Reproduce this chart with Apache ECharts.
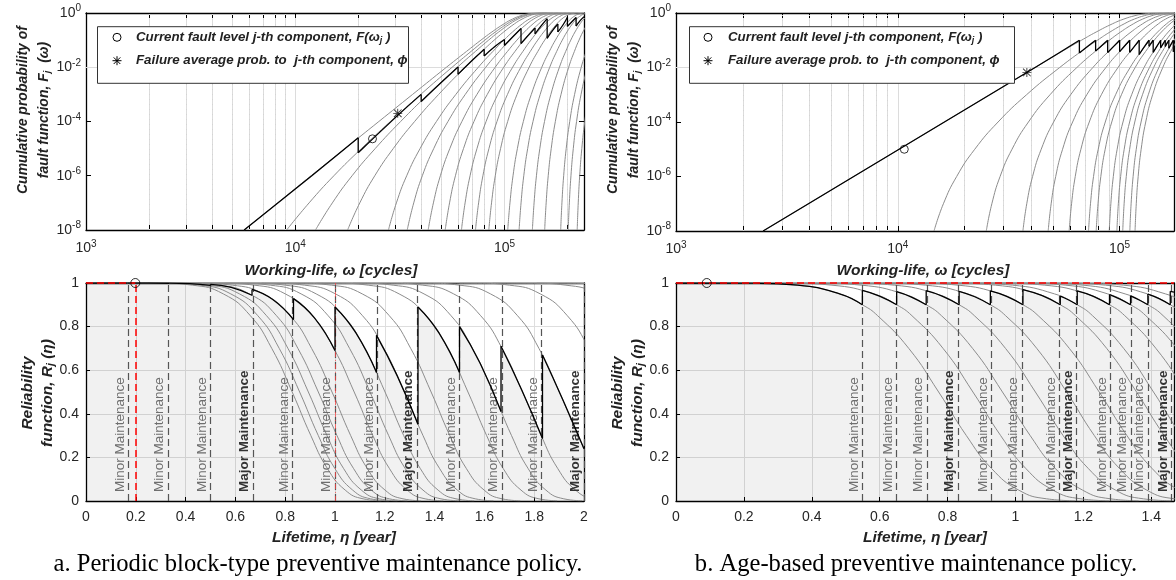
<!DOCTYPE html>
<html><head><meta charset="utf-8">
<script src="https://cdn.jsdelivr.net/npm/echarts@6/dist/echarts.min.js"></script>
<style>html,body{margin:0;padding:0;background:#fff}#c{width:1176px;height:580px}</style>
</head><body><div id="c"></div>
<script>
// ================= DATA =================
// --- axis ranges / ticks ---
const cyclesMaxA = 2.4e5, cyclesMaxB = 1.76e5;
const yearsMaxA = 2, yearsMaxB = 1.467;
const decadeTicks = [1e3, 1e4, 1e5];
const minorTicksA = [2e3,3e3,4e3,5e3,6e3,7e3,8e3,9e3,2e4,3e4,4e4,5e4,6e4,7e4,8e4,9e4,2e5];
const minorTicksB = [2e3,3e3,4e3,5e3,6e3,7e3,8e3,9e3,2e4,3e4,4e4,5e4,6e4,7e4,8e4,9e4];
const probTicks = [1e-8, 1e-6, 1e-4, 1e-2, 1];
const probGrid = [1e-6, 1e-4, 1e-2];

// --- top panels: cumulative probability curves ---
// probability levels and the working-life (cycles) at which the left-most grey curve crosses them
const fLevels = [1e-8,1e-7,1e-6,1e-5,1e-4,1e-3,1e-2,0.05,0.1,0.2,0.4,0.6,0.8,0.9,0.97,0.995,0.9999];
const fCurveA = [5.7e3,8.25e3,1.19e4,1.73e4,2.51e4,3.64e4,5.28e4,6.88e4,7.72e4,8.71e4,9.96e4,1.094e5,1.199e5,1.27e5,1.359e5,1.452e5,1.588e5];
const fCurveB = [2.47e3,3.96e3,6.33e3,1.014e4,1.623e4,2.597e4,4.161e4,5.8e4,6.73e4,7.84e4,9.28e4,1.046e5,1.174e5,1.263e5,1.376e5,1.497e5,1.676e5];
// horizontal offset (cycles) of every grey curve relative to the left-most one
const fShiftA = [0,3.4e3,6.8e3,1.21e4,2.22e4,2.86e4,3.75e4,4.64e4,5.66e4,6.7e4,7.85e4,9.8e4,1.118e5,1.303e5,1.5e5,1.8e5,1.96e5,2.17e5];
const fShiftB = [0,1.21e4,2.26e4,3.42e4,4.52e4,5.68e4,7.0e4,7.6e4,8.74e4,9.48e4,1.009e5,1.088e5,1.15e5];
// black (current) fault curve, one list per interval between maintenances: [cycles, F]
const fBlackA = [
  [[5.7e3,1e-8],[1.2e4,1e-6],[2e4,2.5e-5]],
  [[2e4,7e-6],[3e4,1.36e-4],[4e4,1.0e-3]],
  [[4e4,5.5e-4],[5e4,2.8e-3],[6e4,1.03e-2]],
  [[6e4,5.5e-3],[7e4,1.77e-2],[8e4,4.65e-2]],
  [[8e4,2.6e-2],[9e4,5.8e-2],[1e5,0.105]],
  [[1e5,6.3e-2],[1.1e5,0.136],[1.2e5,0.27]],
  [[1.2e5,7.5e-2],[1.3e5,0.149],[1.4e5,0.279]],
  [[1.4e5,0.17],[1.5e5,0.34],[1.6e5,0.62]],
  [[1.6e5,0.117],[1.7e5,0.229],[1.8e5,0.394]],
  [[1.8e5,0.2],[1.9e5,0.353],[2e5,0.70]],
  [[2e5,0.32],[2.1e5,0.475],[2.2e5,0.681]],
  [[2.2e5,0.33],[2.3e5,0.524],[2.4e5,0.727]]
];
const fBlackB = [
  [[2.47e3,1e-8],[6.33e3,1e-6],[1.623e4,1e-4],[4.161e4,1e-2],[6.59e4,0.1]],
  [[6.59e4,0.034],[7.19e4,0.06],[7.8e4,0.1]],
  [[7.8e4,0.04],[8.32e4,0.0645],[8.84e4,0.1]],
  [[8.84e4,0.0355],[9.43e4,0.061],[1.001e5,0.1]],
  [[1.001e5,0.038],[1.056e5,0.063],[1.111e5,0.1]],
  [[1.111e5,0.036],[1.169e5,0.061],[1.226e5,0.1]],
  [[1.226e5,0.03],[1.292e5,0.057],[1.358e5,0.1]],
  [[1.358e5,0.06],[1.388e5,0.078],[1.418e5,0.1]],
  [[1.418e5,0.036],[1.475e5,0.061],[1.532e5,0.1]],
  [[1.532e5,0.053],[1.57e5,0.074],[1.607e5,0.1]],
  [[1.607e5,0.059],[1.637e5,0.078],[1.668e5,0.1]],
  [[1.668e5,0.051],[1.708e5,0.072],[1.747e5,0.1]],
  [[1.747e5,0.038],[1.76e5,0.041]]
];
const fCircleA = [2.34e4, 2.3e-5], fStarA = [3.09e4, 2.0e-4];
const fCircleB = [1.07e4, 1.0e-5], fStarB = [3.82e4, 6.6e-3];

// --- bottom panels: reliability curves ---
const rLevelsA = [1,0.999,0.99,0.95,0.85,0.7,0.5,0.3,0.15,0.05,0.01,0.001];
const rCurveA  = [0,0.298,0.4275,0.5515,0.66,0.746,0.828,0.903,0.969,1.041,1.113,1.186];
const rShiftA  = [0,0.03,0.065,0.105,0.16,0.249,0.3125,0.373,0.4505,0.558,0.706,0.806,0.925,1.073,1.273,1.5,1.633,1.81];
const rLevelsB = [1,0.999,0.99,0.95,0.9,0.85,0.7,0.5,0.3,0.15,0.05,0.01,0.001];
const rCurveB  = [0,0.2355,0.3583,0.482,0.549,0.594,0.6857,0.7737,0.8554,0.929,1.0096,1.092,1.175];
const rShiftB  = [0,0.101,0.188,0.285,0.377,0.473,0.583,0.633,0.728,0.79,0.841,0.907,0.96];
const rBlackA = [
  [[0,1],[0.0833,1],[0.1667,1]],
  [[0.1667,1],[0.25,1],[0.3333,0.9989]],
  [[0.3333,0.9995],[0.4167,0.997],[0.5,0.9888]],
  [[0.5,0.9939],[0.5833,0.98],[0.6667,0.9437]],
  [[0.6667,0.9704],[0.75,0.924],[0.8333,0.832]],
  [[0.8333,0.9285],[0.9167,0.841],[1.0,0.69]],
  [[1.0,0.89],[1.0833,0.772],[1.1667,0.589]],
  [[1.1667,0.76],[1.25,0.574],[1.3333,0.352]],
  [[1.3333,0.89],[1.4167,0.772],[1.5,0.589]],
  [[1.5,0.8],[1.5833,0.631],[1.6667,0.411]],
  [[1.6667,0.71],[1.75,0.509],[1.8333,0.287]],
  [[1.8333,0.67],[1.9167,0.46],[2.0,0.24]]
];
const rBlackB = [
  [[0,1],[0.2355,0.999],[0.3583,0.99],[0.482,0.95],[0.549,0.9]],
  [[0.549,0.966],[0.5995,0.94],[0.65,0.9]],
  [[0.65,0.96],[0.6935,0.9355],[0.737,0.9]],
  [[0.737,0.9645],[0.7855,0.939],[0.834,0.9]],
  [[0.834,0.962],[0.88,0.937],[0.926,0.9]],
  [[0.926,0.964],[0.974,0.939],[1.022,0.9]],
  [[1.022,0.97],[1.077,0.943],[1.132,0.9]],
  [[1.132,0.94],[1.157,0.922],[1.182,0.9]],
  [[1.182,0.964],[1.2295,0.939],[1.277,0.9]],
  [[1.277,0.947],[1.308,0.926],[1.339,0.9]],
  [[1.339,0.941],[1.3645,0.922],[1.39,0.9]],
  [[1.39,0.949],[1.423,0.928],[1.456,0.9]],
  [[1.456,0.962],[1.467,0.958]]
];
const maintA = [0.1667,0.3333,0.5,0.6667,0.8333,1.0,1.1667,1.3333,1.5,1.6667,1.8333,2.0];
const maintKindA = ['Minor','Minor','Minor','Major','Minor','Minor','Minor','Major','Minor','Minor','Minor','Major'];
const maintB = [0.549,0.65,0.737,0.834,0.926,1.022,1.132,1.182,1.277,1.339,1.39,1.456];
const maintKindB = ['Minor','Minor','Minor','Major','Minor','Minor','Minor','Major','Minor','Minor','Minor','Major'];
const nowA = 0.198, nowB = 0.0906;
const horizonA = 1.0;

// --- texts ---
const legendText1 = 'Current fault level j-th component, F(ω';
const legendText2 = 'Failure average prob. to  j-th component, ϕ';
const captionA = 'a. Periodic block-type preventive maintenance policy.';
const captionB = 'b. Age-based preventive maintenance policy.';

// ================= CHART =================
const FONT = "'Liberation Sans', Arial, Helvetica, sans-serif";
const TXT = '#262626';
const STAR = 'path://M4.5,0L5.5,0L5.5,10L4.5,10Z M0,4.5L10,4.5L10,5.5L0,5.5Z M1.1,0.4L9.6,8.9L8.9,9.6L0.4,1.1Z M8.9,0.4L9.6,1.1L1.1,9.6L0.4,8.9Z';

const powRich = {
  b: {fontSize: 14, fontFamily: FONT, color: TXT},
  s: {fontSize: 10, fontFamily: FONT, color: TXT, padding: [0, 0, 9, 0]}
};
function pow10(v) {
  const e = Math.round(Math.log10(v));
  if (Math.abs(Math.log10(v) - e) > 1e-6) return '';
  return '{b|10}{s|' + e + '}';
}

const xAxes = [], yAxes = [];
const frame = {show: true, onZero: false, lineStyle: {color: '#000', width: 1.3}};
function addLogAxes(g, xmax, minor) {
  const tv = decadeTicks.concat(minor).filter(v => v <= xmax);
  xAxes.push({type: 'log', logBase: 10, gridIndex: g, min: 1e3, max: xmax, position: 'bottom',
    axisLine: frame, axisTick: {show: true, inside: true, length: 5, customValues: tv, lineStyle: {color: '#000'}},
    axisLabel: {show: true, customValues: decadeTicks, formatter: pow10, rich: powRich, margin: 9},
    splitLine: {show: true, lineStyle: {color: '#dcdcdc', width: 1}}});
  xAxes.push({type: 'log', logBase: 10, gridIndex: g, min: 1e3, max: xmax, position: 'top',
    axisLine: frame, axisTick: {show: true, inside: true, length: 5, customValues: tv, lineStyle: {color: '#000'}},
    axisLabel: {show: false}, splitLine: {show: false}});
  yAxes.push({type: 'log', logBase: 10, gridIndex: g, min: 1e-8, max: 1, position: 'left',
    axisLine: frame, axisTick: {show: true, inside: true, length: 5, customValues: probTicks, lineStyle: {color: '#000'}},
    axisLabel: {show: true, customValues: probTicks, formatter: pow10, rich: powRich, margin: 5},
    splitLine: {show: false}});
  yAxes.push({type: 'log', logBase: 10, gridIndex: g, min: 1e-8, max: 1, position: 'right',
    axisLine: frame, axisTick: {show: true, inside: true, length: 5, customValues: probTicks, lineStyle: {color: '#000'}},
    axisLabel: {show: false}, splitLine: {show: false}});
}
function addLinAxes(g, xmax) {
  const lab = {show: true, fontFamily: FONT, fontSize: 14, color: TXT, margin: 9};
  xAxes.push({type: 'value', gridIndex: g, min: 0, max: xmax, interval: 0.2, position: 'bottom',
    axisLine: frame, axisTick: {show: true, inside: true, length: 4, lineStyle: {color: '#000'}},
    axisLabel: Object.assign({showMaxLabel: xmax === 2}, lab),
    splitLine: {show: true, lineStyle: {color: '#dedede', width: 1}}});
  xAxes.push({type: 'value', gridIndex: g, min: 0, max: xmax, interval: 0.2, position: 'top',
    axisLine: frame, axisTick: {show: false}, axisLabel: {show: false}, splitLine: {show: false}});
  yAxes.push({type: 'value', gridIndex: g, min: 0, max: 1, interval: 0.2, position: 'left',
    axisLine: frame, axisTick: {show: true, inside: true, length: 4, lineStyle: {color: '#000'}},
    axisLabel: Object.assign({}, lab, {margin: 7}),
    splitLine: {show: true, lineStyle: {color: '#dedede', width: 1}}});
  yAxes.push({type: 'value', gridIndex: g, min: 0, max: 1, interval: 0.2, position: 'right',
    axisLine: frame, axisTick: {show: false}, axisLabel: {show: false}, splitLine: {show: false}});
}
addLogAxes(0, cyclesMaxA, minorTicksA);
addLogAxes(1, cyclesMaxB, minorTicksB);
addLinAxes(2, yearsMaxA);
addLinAxes(3, yearsMaxB);

const series = [];
function helper(xi, yi, pt, ml) {
  series.push({type: 'line', xAxisIndex: xi, yAxisIndex: yi, data: [pt], showSymbol: false, symbol: 'none',
    silent: true, lineStyle: {opacity: 0}, z: ml.z, markLine: Object.assign({silent: true, symbol: ['none', 'none'], animation: false, label: {show: false}}, ml)});
}
function greys(curve, levels, shifts, xi, yi) {
  shifts.forEach(s => series.push({type: 'line', xAxisIndex: xi, yAxisIndex: yi, smooth: true, symbol: 'none', silent: true, z: 2,
    lineStyle: {color: '#8c8c8c', width: 1}, data: curve.map((c, i) => [c + s, levels[i]])}));
}
function blacks(segs, xi, yi, fill) {
  segs.forEach((seg, k) => {
    if (fill) series.push({type: 'line', xAxisIndex: xi, yAxisIndex: yi, smooth: true, symbol: 'none', silent: true, z: 1,
      lineStyle: {width: 0, opacity: 0}, areaStyle: {color: 'rgba(0,0,0,0.055)', opacity: 1}, data: seg});
    series.push({type: 'line', xAxisIndex: xi, yAxisIndex: yi, smooth: true, symbol: 'none', silent: true, z: 5,
      lineStyle: {color: '#000', width: 1.3}, data: seg});
    if (k > 0) {
      const p = segs[k - 1][segs[k - 1].length - 1];
      series.push({type: 'line', xAxisIndex: xi, yAxisIndex: yi, symbol: 'none', silent: true, z: 5,
        lineStyle: {color: '#000', width: 1.3}, data: [p, seg[0]]});
    }
  });
}
function marker(xi, yi, pt, sym, size, filled) {
  series.push({type: 'scatter', xAxisIndex: xi, yAxisIndex: yi, symbol: sym, symbolSize: size, silent: true, z: 8,
    itemStyle: filled ? {color: '#000'} : {color: 'rgba(255,255,255,0)', borderColor: '#000', borderWidth: 1}, data: [pt]});
}

// top panels
[[0, 0, minorTicksA, fCurveA, fShiftA, fBlackA, fCircleA, fStarA], [2, 2, minorTicksB, fCurveB, fShiftB, fBlackB, fCircleB, fStarB]]
.forEach(([xi, yi, minor, curve, shifts, black, circ, star]) => {
  helper(xi, yi, [1e4, 1e-4], {z: 1, lineStyle: {color: '#d4d4d4', type: [1, 4], width: 1},
    data: minor.map(v => ({xAxis: v})).concat(probGrid.map(v => ({yAxis: v, lineStyle: {type: 'solid', color: '#dcdcdc', width: 1}})))});
  greys(curve, fLevels, shifts, xi, yi);
  blacks(black, xi, yi, false);
  marker(xi, yi, circ, 'circle', 8, false);
  marker(xi, yi, star, STAR, 9, true);
});

// bottom panels
function maintLines(times, kinds, xi, yi) {
  helper(xi, yi, [0.1, 0.5], {z: 3, lineStyle: {color: '#555', type: [7, 4], width: 1.2},
    data: times.map((t, i) => ({xAxis: t, label: {show: true, formatter: kinds[i] + ' Maintenance', position: 'insideStartTop',
      distance: [9, 1.5], fontFamily: FONT, fontSize: 13.5,
      color: kinds[i] === 'Major' ? '#333' : '#6e6e6e', fontWeight: kinds[i] === 'Major' ? 'bold' : 'normal'}}))});
}
greys(rCurveA, rLevelsA, rShiftA, 4, 4);
blacks(rBlackA, 4, 4, true);
maintLines(maintA, maintKindA, 4, 4);
helper(4, 4, [0.1, 0.5], {z: 6, lineStyle: {color: '#ff0000', type: [7, 4], width: 1.5},
  data: [[{coord: [0, 1]}, {coord: [nowA, 1]}], [{coord: [nowA, 0]}, {coord: [nowA, 1]}]]});
helper(4, 4, [0.1, 0.5], {z: 4, lineStyle: {color: 'rgba(255,60,60,0.7)', type: [5, 3, 1, 3], width: 1},
  data: [{xAxis: horizonA}]});
marker(4, 4, [nowA, 1], 'circle', 9, false);

greys(rCurveB, rLevelsB, rShiftB, 6, 6);
blacks(rBlackB, 6, 6, true);
maintLines(maintB, maintKindB, 6, 6);
helper(6, 6, [0.1, 0.5], {z: 6, lineStyle: {color: '#ff0000', type: [7, 4], width: 1.5},
  data: [[{coord: [0, 1]}, {coord: [yearsMaxB, 1]}]]});
marker(6, 6, [nowB, 1], 'circle', 9, false);

// ---------- graphic texts ----------
const BI = {fontFamily: FONT, fontWeight: 'bold', fontStyle: 'italic'};
function rtxt(x, y, text, size, lh, rot, left, z) {
  const t = Object.assign({fontSize: size, lineHeight: lh, fill: '#222', color: '#222'}, BI);
  const s = Object.assign({}, t, {fontSize: size * 0.68, padding: [size * 0.45, 0, 0, 0]});
  const al = left ? 'left' : 'center';
  return {type: 'text', x: x, y: y, rotation: rot ? Math.PI / 2 : 0, z: z || 50,
    style: {text: text, rich: {t: t, s: s}, font: 'italic bold ' + size + 'px ' + FONT, fill: '#222',
      align: al, verticalAlign: 'middle', textAlign: al, textVerticalAlign: 'middle'}};
}
function legend(x, y, w, h, mx, tx) {
  const r1 = y + 10.6, r2 = y + 34;
  const st = {stroke: '#000', lineWidth: 1};
  return [
    {type: 'rect', z: 60, shape: {x: x, y: y, width: w, height: h}, style: {fill: '#fff', stroke: '#333', lineWidth: 1}},
    {type: 'circle', z: 61, shape: {cx: mx, cy: r1, r: 4}, style: {fill: 'none', stroke: '#000', lineWidth: 1}},
    {type: 'line', z: 61, shape: {x1: mx - 4.5, y1: r2, x2: mx + 4.5, y2: r2}, style: st},
    {type: 'line', z: 61, shape: {x1: mx, y1: r2 - 4.5, x2: mx, y2: r2 + 4.5}, style: st},
    {type: 'line', z: 61, shape: {x1: mx - 3.3, y1: r2 - 3.3, x2: mx + 3.3, y2: r2 + 3.3}, style: st},
    {type: 'line', z: 61, shape: {x1: mx - 3.3, y1: r2 + 3.3, x2: mx + 3.3, y2: r2 - 3.3}, style: st},
    rtxt(tx, r1, '{t|' + legendText1 + '}{s|j}{t| )}', 13.3, 15, false, true, 62),
    rtxt(tx, r2, '{t|' + legendText2 + '}', 13.3, 15, false, true, 62)
  ];
}
const yNameTop = '{t|Cumulative probability of}\n{t|fault function, F}{s|j}{t|  (ω)}';
const yNameBot = '{t|Reliability}\n{t|function, R}{s|j}{t| (η)}';
const capFont = '24.6px "Liberation Serif", "Times New Roman", serif';
const graphics = [
  rtxt(34, 110, yNameTop, 14, 21, true),
  rtxt(624, 110, yNameTop, 14, 21, true),
  rtxt(38, 393, yNameBot, 15.5, 20, true),
  rtxt(628, 393, yNameBot, 15.5, 20, true),
  rtxt(331, 271, '{t|Working-life, ω [cycles]}', 15.5, 18, false),
  rtxt(923, 271, '{t|Working-life, ω [cycles]}', 15.5, 18, false),
  rtxt(334, 538, '{t|Lifetime, η [year]}', 15.5, 18, false),
  rtxt(925, 538, '{t|Lifetime, η [year]}', 15.5, 18, false),
  {type: 'text', x: 318, y: 565, z: 50, style: {text: captionA, font: capFont, fill: '#000',
    align: 'center', verticalAlign: 'middle', textAlign: 'center', textVerticalAlign: 'middle'}},
  {type: 'text', x: 916, y: 565, z: 50, style: {text: captionB, font: capFont, fill: '#000',
    align: 'center', verticalAlign: 'middle', textAlign: 'center', textVerticalAlign: 'middle'}}
].concat(legend(97.5, 26.7, 311, 56.6, 117, 136)).concat(legend(689.5, 26.7, 325, 56.6, 708, 728));

const chart = echarts.init(document.getElementById('c'), null, {renderer: 'canvas', width: 1176, height: 580});
chart.setOption({
  animation: false,
  backgroundColor: '#fff',
  textStyle: {fontFamily: FONT},
  grid: [
    {left: 86, top: 13, width: 498, height: 217},
    {left: 676, top: 13, width: 498, height: 218},
    {left: 86, top: 283, width: 498, height: 218},
    {left: 676, top: 283, width: 498, height: 218}
  ],
  xAxis: xAxes,
  yAxis: yAxes,
  series: series,
  graphic: {elements: graphics}
});
</script></body></html>
